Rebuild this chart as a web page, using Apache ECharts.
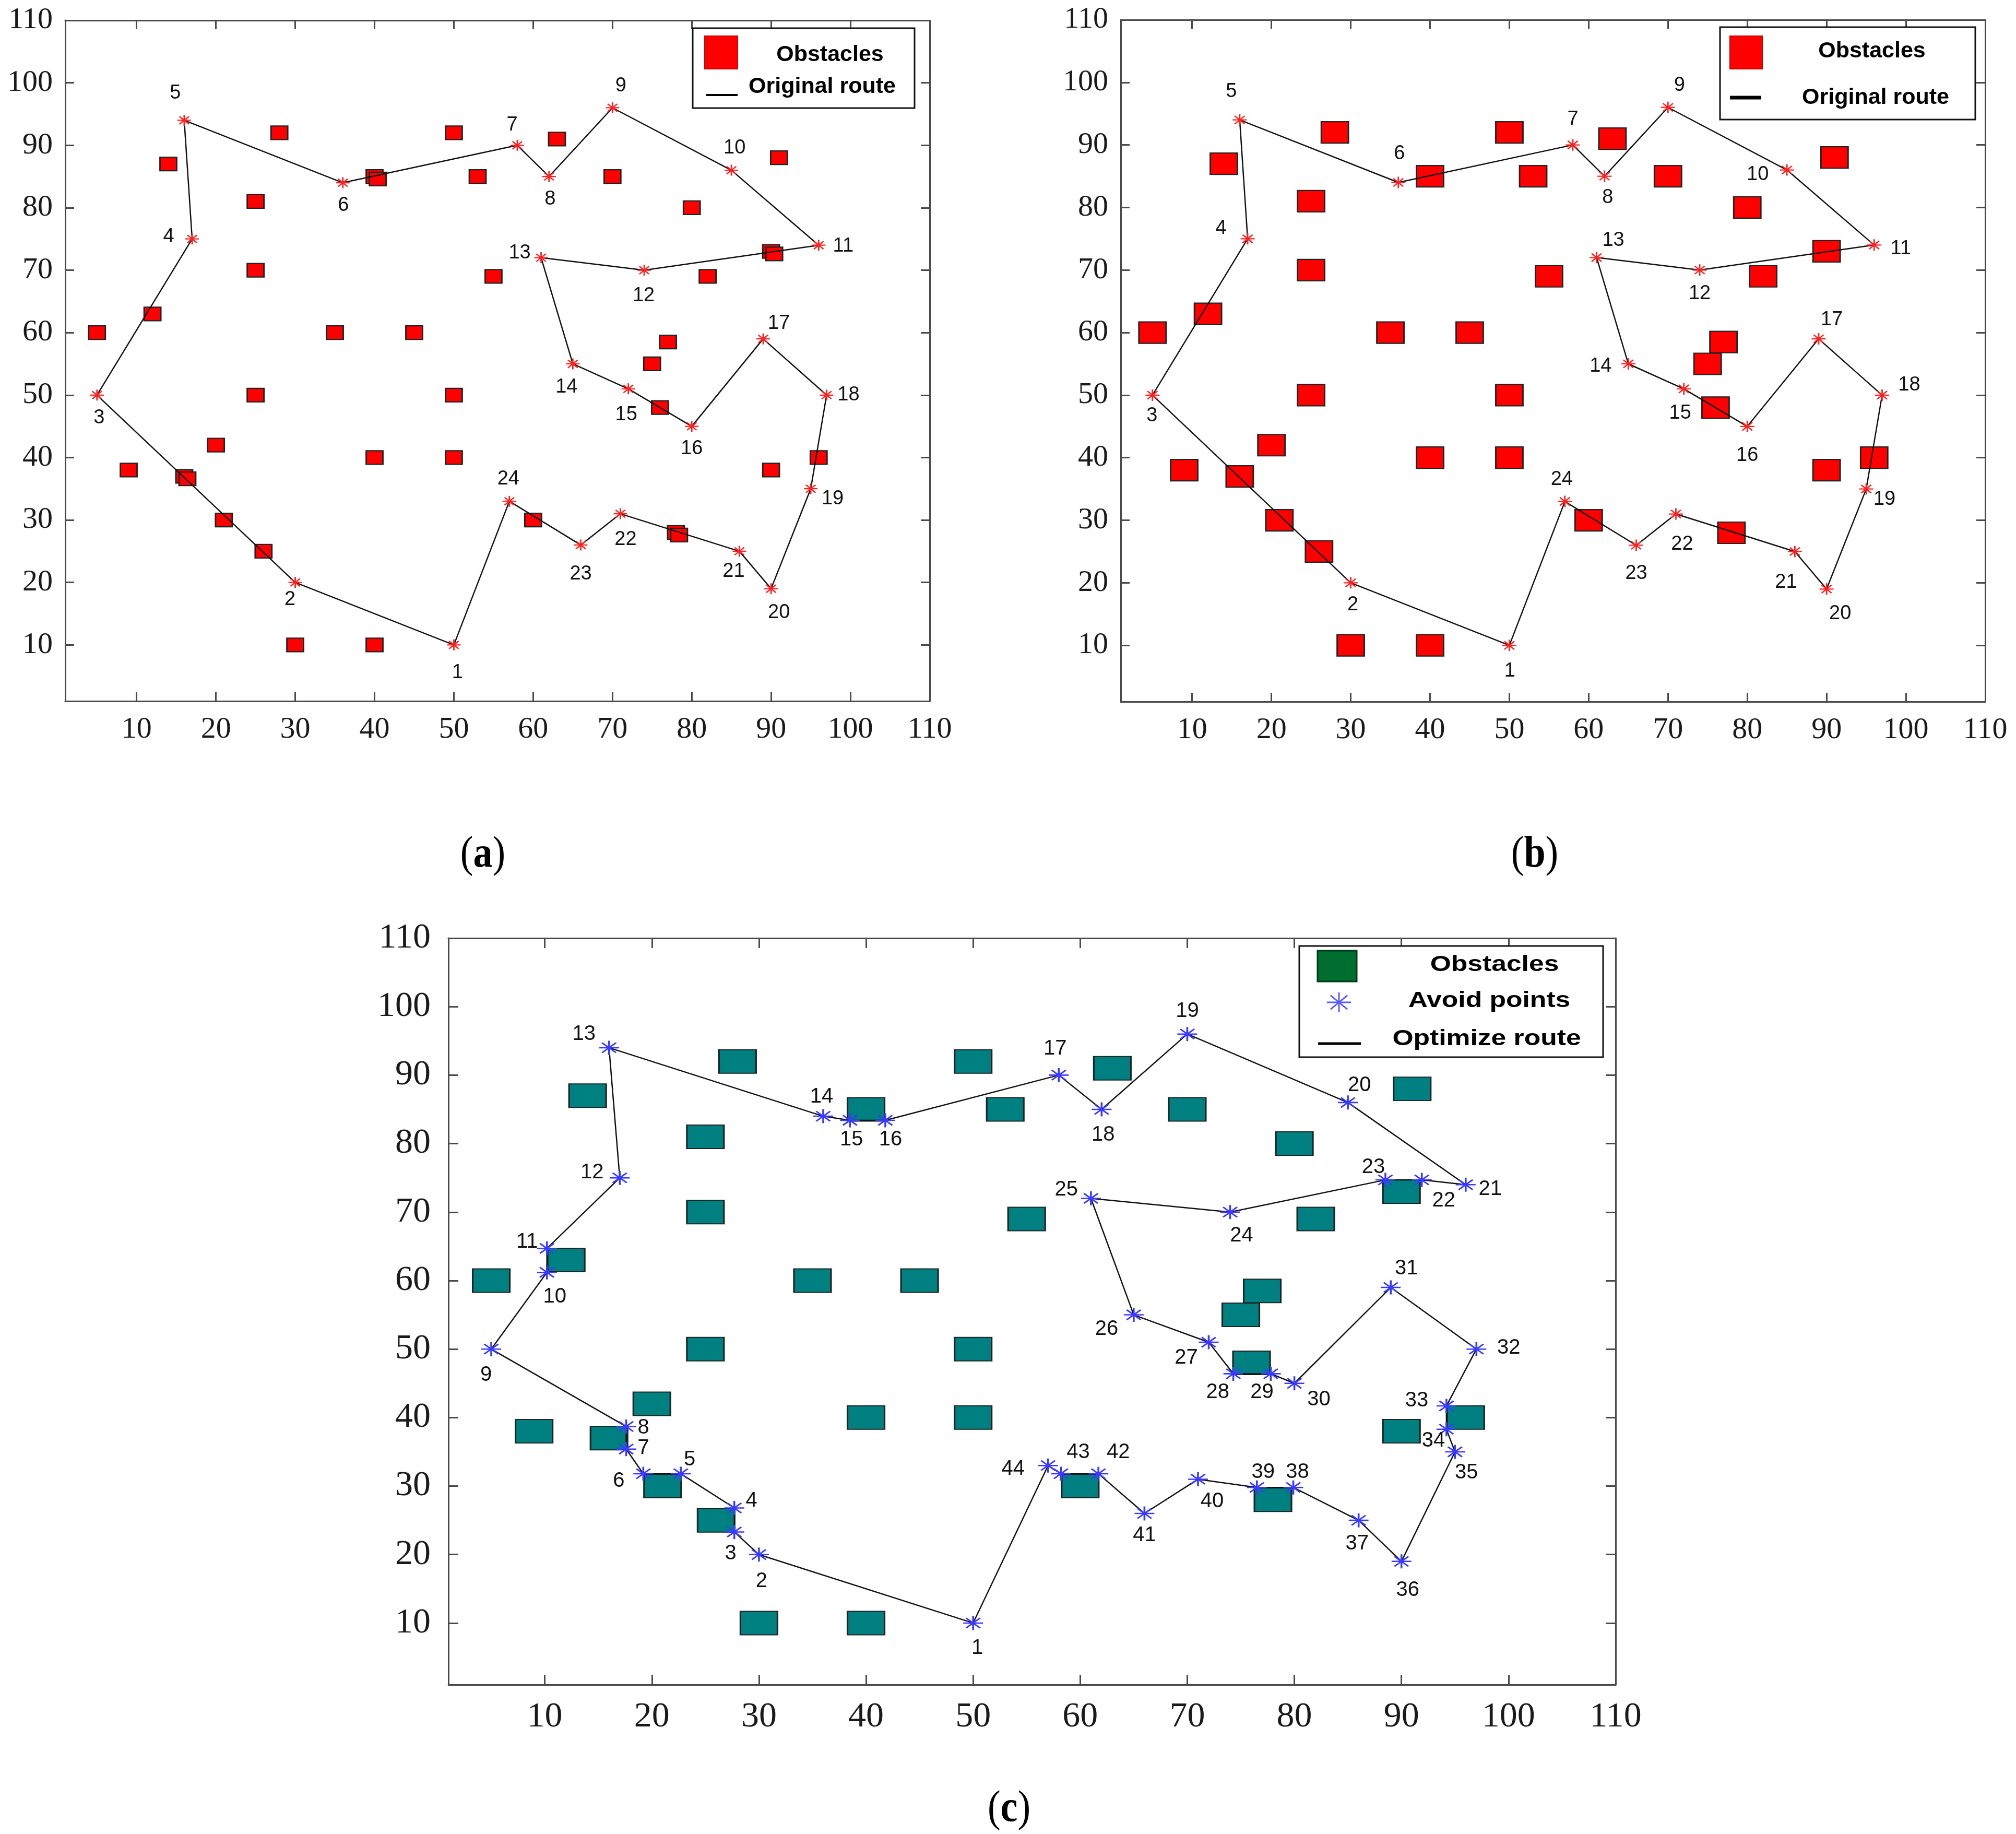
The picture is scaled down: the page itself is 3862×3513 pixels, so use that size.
<!DOCTYPE html>
<html>
<head>
<meta charset="utf-8">
<script src="https://cdn.jsdelivr.net/npm/echarts@6/dist/echarts.min.js"></script>
<style>
  html, body { margin: 0; padding: 0; background: #fff; }
  #chart { width: 3862px; height: 3513px; }
</style>
</head>
<body>
<div id="chart"></div>
<script>
// obstacle centres (same field in all three panels)
const obstacles = [
  [5,60],[9,38],[12,63],[14,87],[16,37],[20,42],[21,30],[25,81],[25,70],[25,50],
  [26,25],[28,92],[30,10],[35,60],[40,40],[40,10],[40,85],[45,60],[50,92],[50,50],
  [50,40],[53,85],[55,69],[60,30],[63,91],[70,85],[75,55],[77,58.5],[76,48],[78,28],
  [80,80],[82,69],[90,38],[90,73],[91,88],[96,40]
];
// a few doubled squares only visible in panel (a)
const obstaclesOverlapA = [[16.4,36.6],[40.4,84.6],[90.4,72.6],[78.4,27.6]];

// original route, points 1..24 (closed loop)
const originalRoute = [
  [50,10],[30,20],[5,50],[17,75],[16,94],[36,84],[58,90],[62,85],[70,96],[85,86],
  [96,74],[74,70],[61,72],[65,55],[72,51],[80,45],[89,59],[97,50],[95,35],[90,19],
  [86,25],[71,31],[66,26],[57,33]
];

// optimized route with avoid points, 1..44 (closed loop)
const optimizeRoute = [
  [50,10],[30,20],[27.7,23.3],[27.7,26.8],[22.7,31.8],[19.2,31.8],[17.6,35.4],[17.6,38.7],[5,50],[10.2,61.2],
  [10.2,64.7],[17,75],[16,94],[36,84],[38.5,83.4],[41.8,83.4],[58,90],[62,85],[70,96],[85,86],
  [96,74],[91.9,74.7],[88.5,74.7],[74,70],[61,72],[65,55],[72,51],[74.3,46.4],[77.8,46.4],[80,45],
  [89,59],[97,50],[94.2,41.7],[94.2,38.3],[95,35],[90,19],[86,25],[79.9,29.8],[76.5,29.8],[71,31],
  [66,26],[61.7,31.8],[58.2,31.8],[57,33]
];

const tickValues = [10,20,30,40,50,60,70,80,90,100,110];

// label offsets in px from each point (style only)
const labelOffA = [[7,53],[-10,33],[4,44],[-45,-4],[-17,-52],[1,43],[-10,-39],[2,43],[16,-42],[6,-43],
  [47,2],[-1,49],[-41,-9],[-12,45],[-4,50],[0,43],[30,-30],[42,0],[42,19],[15,46],
  [-11,39],[10,49],[0,56],[-2,-43]];
const labelOffB = [[1,49],[4,42],[-1,40],[-51,-20],[-16,-54],[2,-55],[0,-49],[6,41],[22,-42],[-56,9],
  [51,7],[0,45],[32,-33],[-53,5],[-7,47],[0,56],[25,-37],[52,-19],[35,20],[26,47],
  [-17,59],[12,58],[0,54],[-6,-42]];
const labelOffC = [[8,48],[5,51],[-7,42],[33,-14],[17,-27],[-47,14],[33,-2],[33,3],[-10,50],[15,47],
  [-38,-12],[-53,-10],[-48,-26],[-3,-37],[3,37],[10,37],[-7,-50],[3,49],[0,-44],[22,-33],
  [47,9],[42,40],[-23,-24],[22,45],[-47,-17],[-52,27],[-43,30],[-30,36],[-17,36],[47,31],
  [30,-36],[62,-2],[-57,-10],[-25,22],[22,40],[12,55],[-3,45],[8,-29],[12,-29],[27,43],
  [0,42],[38,-41],[33,-41],[-67,7]];

const AXIS_COLOR = '#4a4a4a';
const STAR = 'path://M10,0L10,20M0,10L20,10M2.93,2.93L17.07,17.07M2.93,17.07L17.07,2.93';

const panels = [
  { grid: { left: 125, top: 39, width: 1656, height: 1304 }, tickFont: 58, tickLen: 17, xMargin: 26, yMargin: 24,
    route: originalRoute, offs: labelOffA, obsSize: [32, 26], obsColor: '#ff0000', starSize: [26, 21], starColor: '#ff2020', starW: 2.5, lblFont: 38 },
  { grid: { left: 2147, top: 38, width: 1656, height: 1306 }, tickFont: 58, tickLen: 17, xMargin: 26, yMargin: 24,
    route: originalRoute, offs: labelOffB, obsSize: [52, 41], obsColor: '#ff0000', starSize: [27, 22], starColor: '#ff2020', starW: 2.5, lblFont: 38 },
  { grid: { left: 859, top: 1797, width: 2236, height: 1430 }, tickFont: 68, tickLen: 19, xMargin: 28, yMargin: 34,
    route: optimizeRoute, offs: labelOffC, obsSize: [71, 45], obsColor: '#008080', starSize: [38, 27], starColor: '#3a3aff', starW: 3, lblFont: 40 }
];

function axisPair(gi, p, dim) {
  const base = {
    type: 'value', gridIndex: gi, min: 1, max: 110,
    axisLine: { show: true, onZero: false, lineStyle: { color: AXIS_COLOR, width: 3 } },
    axisTick: { show: true, inside: true, length: p.tickLen, customValues: tickValues, lineStyle: { color: AXIS_COLOR, width: 3 } },
    splitLine: { show: false }
  };
  const main = Object.assign({}, base, {
    position: dim === 'x' ? 'bottom' : 'left',
    axisLabel: { show: true, customValues: tickValues, margin: dim === 'x' ? p.xMargin : p.yMargin,
      fontFamily: 'Liberation Serif', fontSize: p.tickFont, color: '#1a1a1a' }
  });
  const mirror = Object.assign({}, base, {
    position: dim === 'x' ? 'top' : 'right',
    axisLabel: { show: false }
  });
  return [main, mirror];
}

const grids = [], xAxes = [], yAxes = [], series = [];
panels.forEach((p, gi) => {
  grids.push(Object.assign({ containLabel: false }, p.grid));
  xAxes.push(...axisPair(gi, p, 'x'));
  yAxes.push(...axisPair(gi, p, 'y'));
  const ax = { xAxisIndex: gi * 2, yAxisIndex: gi * 2 };
  const obsData = gi === 0 ? obstacles.concat(obstaclesOverlapA) : obstacles;
  series.push(Object.assign({
    type: 'scatter', data: obsData, symbol: 'rect', symbolSize: p.obsSize, silent: true, z: 2,
    itemStyle: { color: p.obsColor, borderColor: '#1c2424', borderWidth: 2.5, opacity: 1 }
  }, ax));
  series.push(Object.assign({
    type: 'line', data: p.route.concat([p.route[0]]), symbol: 'none', silent: true, z: 3,
    lineStyle: { color: '#111', width: 2.5 }
  }, ax));
  series.push(Object.assign({
    type: 'scatter', symbol: STAR, symbolSize: p.starSize, silent: true, z: 4,
    data: p.route.map((pt, i) => ({ value: pt, label: { offset: p.offs[i] } })),
    itemStyle: { color: 'rgba(0,0,0,0)', borderColor: p.starColor, borderWidth: p.starW, opacity: 1 },
    label: { show: true, position: 'inside', formatter: d => String(d.dataIndex + 1),
      fontFamily: 'Liberation Sans', fontSize: p.lblFont, color: '#111' }
  }, ax));
});

// legends drawn as MATLAB-style boxes
function legendText(txt, x, y, sx) {
  return { type: 'text', x: x, y: y, scaleX: sx || 1, z: 20,
    style: { text: txt, align: 'center', verticalAlign: 'middle', fontFamily: 'Liberation Sans',
      fontWeight: 'bold', fontSize: 43, fill: '#000' } };
}
function box(x1, y1, x2, y2) {
  return { type: 'rect', z: 19, shape: { x: x1, y: y1, width: x2 - x1, height: y2 - y1 },
    style: { fill: '#fff', stroke: '#111', lineWidth: 3 } };
}
function seg(x1, y1, x2, y2, w, color) {
  return { type: 'line', z: 20, shape: { x1: x1, y1: y1, x2: x2, y2: y2 }, style: { stroke: color || '#000', lineWidth: w } };
}
function starIcon(cx, cy, rx, ry, color) {
  const dx = rx * 0.7, dy = ry * 0.7;
  return [
    seg(cx, cy - ry, cx, cy + ry, 3, color),
    seg(cx - rx, cy, cx + rx, cy, 3, color),
    seg(cx - dx, cy - dy, cx + dx, cy + dy, 3, color),
    seg(cx - dx, cy + dy, cx + dx, cy - dy, 3, color)
  ];
}
function subLabel(letter, x, y) {
  return { type: 'text', x: x, y: y, scaleY: 1.15, z: 20,
    style: { text: '({b|' + letter + '})', align: 'center', verticalAlign: 'middle',
      fontFamily: 'Liberation Serif', fontSize: 74, fill: '#000',
      rich: { b: { fontFamily: 'Liberation Serif', fontSize: 74, fontWeight: 'bold' } } } };
}

const graphics = [
  // (a)
  box(1327, 54, 1752, 207),
  { type: 'rect', z: 20, shape: { x: 1350, y: 69, width: 63, height: 63 }, style: { fill: '#ff0000', stroke: '#d00000', lineWidth: 2 } },
  seg(1353, 182, 1413, 182, 4),
  legendText('Obstacles', 1590, 105),
  legendText('Original route', 1575, 166),
  // (b)
  box(3295, 52, 3784, 229),
  { type: 'rect', z: 20, shape: { x: 3314, y: 69, width: 62, height: 63 }, style: { fill: '#ff0000', stroke: '#d00000', lineWidth: 2 } },
  seg(3314, 187, 3374, 187, 7),
  legendText('Obstacles', 3586, 98),
  legendText('Original route', 3593, 187),
  // (c)
  box(2489, 1812, 3071, 2025),
  { type: 'rect', z: 20, shape: { x: 2524, y: 1821, width: 75, height: 59 }, style: { fill: '#006e2e', stroke: '#003a18', lineWidth: 3 } },
  ...starIcon(2565, 1920, 23, 19, '#5a5aff'),
  seg(2525, 1999, 2607, 1999, 5),
  legendText('Obstacles', 2863, 1848, 1.2),
  legendText('Avoid points', 2853, 1917, 1.2),
  legendText('Optimize route', 2848, 1990, 1.2),
  // sub-figure tags
  subLabel('a', 925, 1638),
  subLabel('b', 2940, 1638),
  subLabel('c', 1933, 3466)
];

const chart = echarts.init(document.getElementById('chart'), null, { renderer: 'canvas' });
chart.setOption({
  animation: false,
  backgroundColor: '#fff',
  grid: grids,
  xAxis: xAxes,
  yAxis: yAxes,
  series: series,
  graphic: graphics
});
</script>
</body>
</html>
